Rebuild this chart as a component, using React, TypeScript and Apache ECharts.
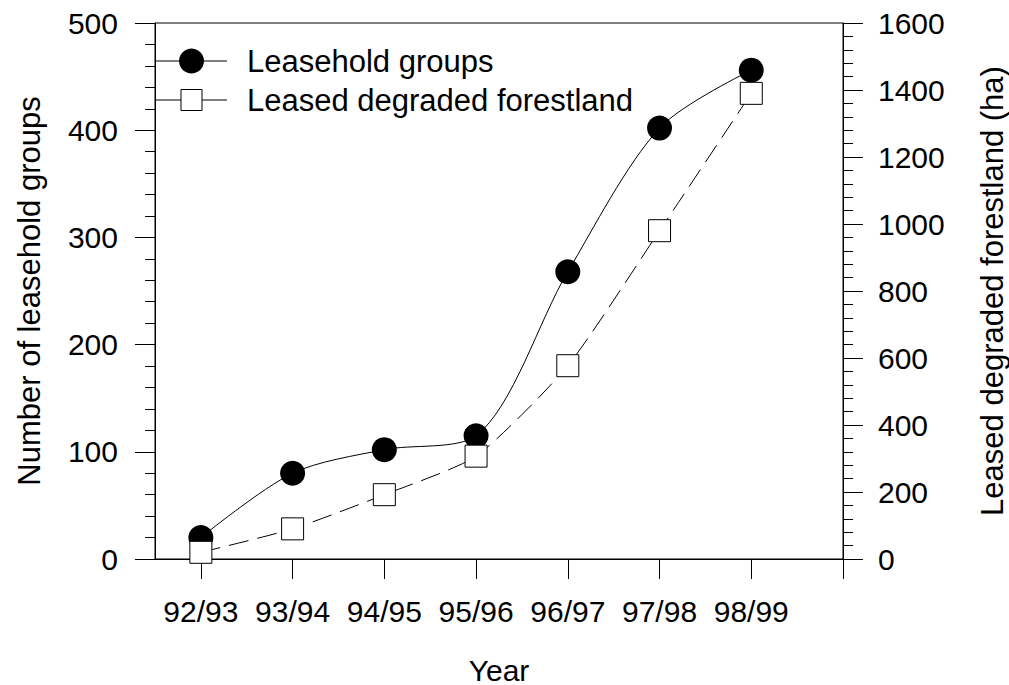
import React, { useEffect, useRef } from "react";
import * as echarts from "echarts";

const categories = ["92/93", "93/94", "94/95", "95/96", "96/97", "97/98", "98/99"];
const groupsValues = [20, 80, 102, 115, 268, 402, 456];
const forestValues = [20, 90, 192, 307, 577, 980, 1390];
const xTickPositions = [0, 1, 2, 3, 4, 5, 6, 7];
const seriesNames = ["Leasehold groups", "Leased degraded forestland"];
const axisNames = ["Year", "Number of leasehold groups", "Leased degraded forestland (ha)"];

const FONT = "'Liberation Sans', Arial, Helvetica, sans-serif";

export default function App() {
  const ref = useRef<HTMLDivElement>(null);

  useEffect(() => {
    document.body.style.margin = "0";
    if (!ref.current) return;
    const chart = echarts.init(ref.current, null, { renderer: "svg" });
    const black = "#000";
    const option: any = {
      animation: false,
      backgroundColor: "#fff",
      textStyle: { fontFamily: FONT, color: black },
      grid: {
        left: 155,
        right: 166,
        top: 23,
        bottom: 126,
        containLabel: false,
        outerBoundsMode: "none",
        show: true,
        borderColor: black,
        borderWidth: 1,
        backgroundColor: "transparent",
      },
      xAxis: {
        type: "value",
        min: -0.5,
        max: 7,
        name: axisNames[0],
        nameLocation: "middle",
        nameGap: 96,
        nameTextStyle: { fontSize: 30, color: black, fontFamily: FONT },
        axisLine: { show: true, onZero: false, lineStyle: { color: black, width: 1 } },
        axisTick: {
          show: true,
          inside: false,
          length: 20,
          customValues: xTickPositions,
          lineStyle: { color: black, width: 1 },
        },
        axisLabel: {
          show: true,
          customValues: categories.map((_, i) => i),
          formatter: (v: number) => categories[Math.round(v)] ?? "",
          fontSize: 30,
          margin: 37,
          color: black,
          fontFamily: FONT,
        },
        splitLine: { show: false },
      },
      yAxis: [
        {
          type: "value",
          position: "left",
          min: 0,
          max: 500,
          interval: 100,
          name: axisNames[1],
          nameLocation: "middle",
          nameRotate: 90,
          nameGap: 110,
          nameTextStyle: { fontSize: 31, color: black, fontFamily: FONT },
          axisLine: { show: true, onZero: false, lineStyle: { color: black, width: 1 } },
          axisTick: { show: true, inside: false, length: 20, lineStyle: { color: black, width: 1 } },
          minorTick: { show: true, splitNumber: 5, length: 10, lineStyle: { color: black, width: 1 } },
          axisLabel: { fontSize: 30, margin: 37, color: black, fontFamily: FONT, formatter: (v: number) => String(v) },
          splitLine: { show: false },
          minorSplitLine: { show: false },
        },
        {
          type: "value",
          position: "right",
          min: 0,
          max: 1600,
          interval: 200,
          name: axisNames[2],
          nameLocation: "middle",
          nameRotate: 90,
          nameGap: 134,
          nameTextStyle: { fontSize: 31, color: black, fontFamily: FONT },
          axisLine: { show: true, onZero: false, lineStyle: { color: black, width: 1 } },
          axisTick: { show: true, inside: false, length: 20, lineStyle: { color: black, width: 1 } },
          minorTick: { show: true, splitNumber: 5, length: 10, lineStyle: { color: black, width: 1 } },
          axisLabel: { fontSize: 30, margin: 35, color: black, fontFamily: FONT, formatter: (v: number) => String(v) },
          splitLine: { show: false },
          minorSplitLine: { show: false },
        },
      ],
      series: [
        {
          name: seriesNames[0],
          type: "line",
          yAxisIndex: 0,
          data: groupsValues.map((v, i) => [i, v]),
          smooth: 0.3,
          symbol: "circle",
          symbolSize: 25,
          itemStyle: { color: black },
          lineStyle: { color: black, width: 1 },
          z: 2,
        },
        {
          name: seriesNames[1],
          type: "line",
          yAxisIndex: 1,
          data: forestValues.map((v, i) => [i, v]),
          smooth: 0.2,
          symbol: "rect",
          symbolSize: 22,
          itemStyle: { color: "#fff", borderColor: black, borderWidth: 1 },
          lineStyle: { color: black, width: 1, type: [20, 9] },
          z: 3,
        },
      ],
      graphic: [
        { type: "line", z: 10, shape: { x1: 155, y1: 61, x2: 227, y2: 61 }, style: { stroke: black, lineWidth: 1 } },
        { type: "circle", z: 11, shape: { cx: 191.5, cy: 61, r: 12.5 }, style: { fill: black } },
        {
          type: "text",
          z: 11,
          x: 247,
          y: 61,
          style: { text: seriesNames[0], fontSize: 31, fontFamily: FONT, fill: black, verticalAlign: "middle" },
        },
        { type: "line", z: 10, shape: { x1: 155, y1: 100, x2: 227, y2: 100 }, style: { stroke: black, lineWidth: 1 } },
        {
          type: "rect",
          z: 11,
          shape: { x: 181, y: 89.5, width: 21, height: 21 },
          style: { fill: "#fff", stroke: black, lineWidth: 1 },
        },
        {
          type: "text",
          z: 11,
          x: 247,
          y: 100,
          style: { text: seriesNames[1], fontSize: 31, fontFamily: FONT, fill: black, verticalAlign: "middle" },
        },
      ],
    };
    chart.setOption(option);
    return () => chart.dispose();
  }, []);

  return <div ref={ref} style={{ width: 1009, height: 685 }} />;
}
